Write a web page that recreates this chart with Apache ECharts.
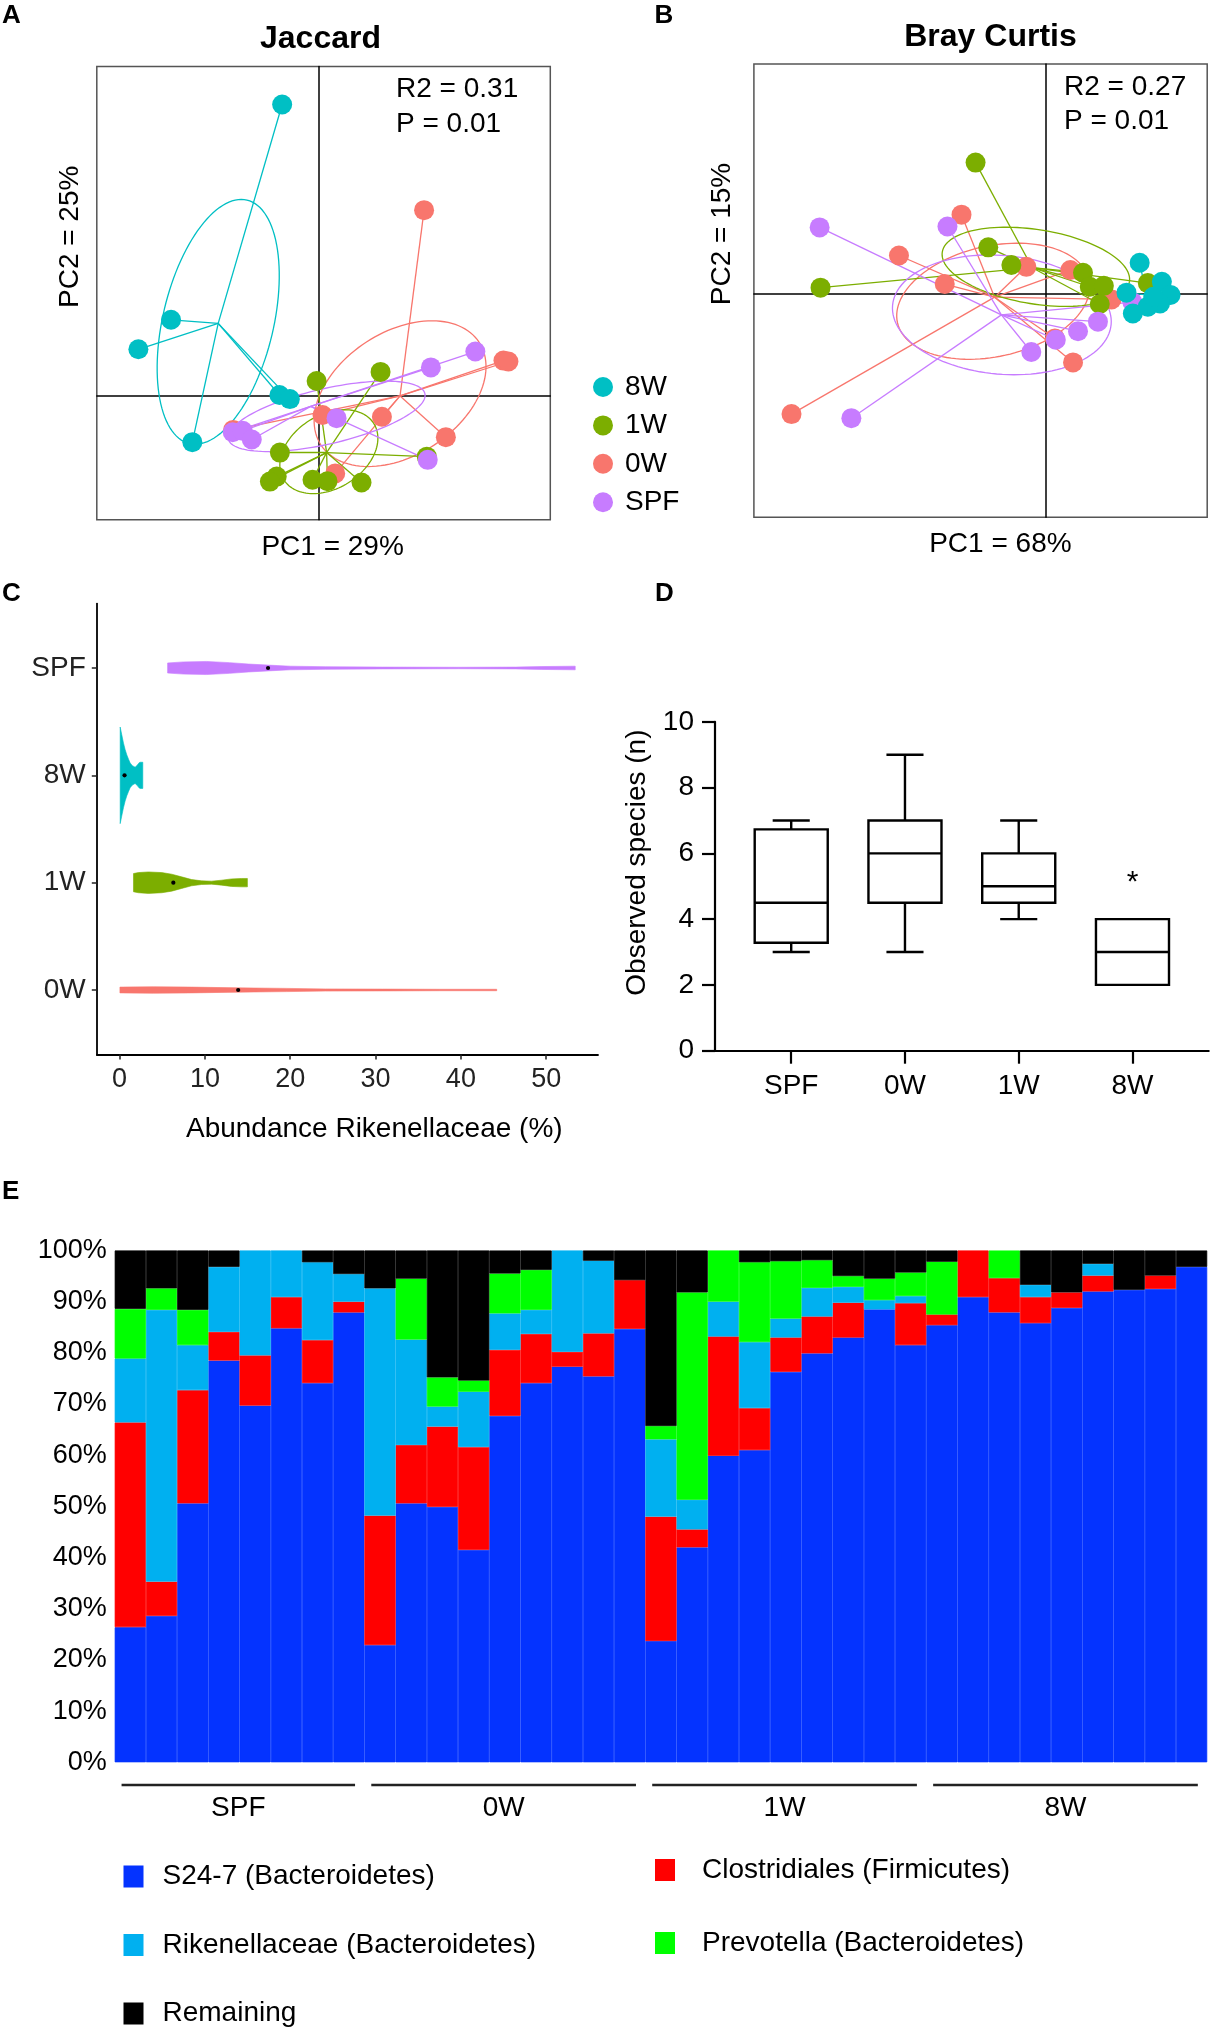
<!DOCTYPE html>
<html><head><meta charset="utf-8">
<script src="https://cdn.jsdelivr.net/npm/echarts@6/dist/echarts.min.js"></script>
<style>html,body{margin:0;padding:0;background:#fff}#c{width:1211px;height:2031px}</style>
</head><body><div id="c"></div>
<script>
// ---------------- DATA ----------------
const groupNames = ['8W', '1W', '0W', 'SPF'];

// Panel A - Jaccard PCoA scores [PC1, PC2]
const jac8W  = [[-0.080,0.642],[-0.325,0.167],[-0.397,0.102],[-0.278,-0.103],[-0.086,0.001],[-0.063,-0.008]];
const jac1W  = [[-0.004,0.032],[0.137,0.052],[-0.085,-0.126],[-0.092,-0.179],[-0.107,-0.190],[-0.013,-0.186],[0.020,-0.189],[0.095,-0.192],[0.239,-0.135]];
const jac0W  = [[0.233,0.409],[0.408,0.077],[0.419,0.075],[0.140,-0.047],[0.281,-0.092],[0.009,-0.043],[0.037,-0.172],[-0.188,-0.076]];
const jacSPF = [[-0.189,-0.081],[-0.167,-0.078],[-0.147,-0.097],[0.040,-0.050],[0.248,0.062],[0.346,0.097],[0.241,-0.142]];
const jacCentroids = { '8W':[-0.221,0.159], '1W':[0.018,-0.126], '0W':[0.180,-0.001], 'SPF':[-0.017,-0.024] };
// ellipse: [centerX, centerY, semiMajor, semiMinor, angleDeg]
const jacEllipses = { '8W':[-0.221,0.1625,0.276,0.122,76.7], '1W':[0.023,-0.124,0.117,0.081,32], '0W':[0.180,0.004,0.208,0.136,33], 'SPF':[0.018,-0.046,0.2225,0.061,13] };
const jacStats = ['R2 = 0.31', 'P = 0.01'];

// Panel B - Bray Curtis PCoA scores
const bc8W  = [[0.208,0.069],[0.257,0.027],[0.276,-0.002],[0.253,-0.021],[0.226,-0.028],[0.193,-0.043],[0.179,0.003],[0.238,-0.006]];
const bc1W  = [[-0.154,0.290],[-0.496,0.014],[-0.126,0.103],[-0.075,0.064],[0.083,0.047],[0.098,0.016],[0.129,0.018],[0.120,-0.022],[0.226,0.024]];
const bc0W  = [[-0.185,0.175],[-0.323,0.085],[-0.222,0.022],[-0.042,0.060],[0.055,0.053],[0.146,-0.012],[0.021,-0.098],[0.061,-0.151],[-0.560,-0.265]];
const bcSPF = [[-0.498,0.147],[-0.216,0.149],[-0.031,-0.128],[0.023,-0.101],[0.072,-0.082],[0.116,-0.061],[0.192,-0.018],[-0.428,-0.274]];
const bcCentroids = { '8W':[0.223,-0.002], '1W':[-0.029,0.058], '0W':[-0.112,-0.007], 'SPF':[-0.097,-0.046] };
const bcEllipses = { '1W':[-0.021,0.060,0.209,0.082,-9], '0W':[-0.115,-0.016,0.2165,0.122,12.6], 'SPF':[-0.096,-0.046,0.242,0.131,-5] };
const bcStats = ['R2 = 0.27', 'P = 0.01'];

// Panel C - violin outlines: [abundance %, half width (category units)]
const violinCats = ['0W', '1W', '8W', 'SPF'];
const violin0W  = [[0.04,0.027],[3.94,0.030],[8.4,0.027],[13.9,0.020],[19.6,0.015],[24.1,0.010],[30.8,0.0085],[37.5,0.0067],[44.2,0.0067]];
const violin1W  = [[1.63,0.085],[2.21,0.094],[3.38,0.100],[4.94,0.094],[6.11,0.079],[7.27,0.054],[8.44,0.029],[9.61,0.017],[10.78,0.014],[11.95,0.023],[13.12,0.035],[14.28,0.039],[14.98,0.039]];
const violin8W  = [[0.07,0.45],[0.25,0.38],[0.46,0.30],[0.65,0.24],[0.85,0.19],[1.05,0.15],[1.24,0.115],[1.5,0.09],[1.82,0.076],[2.0,0.09],[2.13,0.10],[2.3,0.118],[2.41,0.122],[2.72,0.122]];
const violinSPF = [[5.63,0.047],[7.51,0.057],[10.2,0.061],[12.9,0.050],[15.1,0.037],[17.4,0.027],[20.0,0.017],[24.1,0.012],[30.8,0.0085],[39.7,0.0067],[46.4,0.0085],[49.5,0.0135],[53.4,0.017]];
const violinMedians = [13.9, 6.3, 0.58, 17.4];
const abundanceTicks = [0, 10, 20, 30, 40, 50];

// Panel D - observed species boxplots [min, Q1, median, Q3, max]
const boxCats = ['SPF', '0W', '1W', '8W'];
const boxStats = [[3,3.28,4.5,6.73,7],[3,4.5,6,7,9],[4,4.5,5,6,7],[2,2,3,4,4]];
const sigMarks = [[4, 5.1, '*']];

// Panel E - relative abundance per sample (%)
const taxa = ['S24-7 (Bacteroidetes)', 'Clostridiales (Firmicutes)', 'Rikenellaceae (Bacteroidetes)', 'Prevotella (Bacteroidetes)', 'Remaining'];
const s24   = [26.4,28.6,50.6,78.5,69.7,84.8,74.1,87.9,22.9,50.6,49.9,41.5,67.7,74.1,77.3,75.4,84.7,23.7,42.0,59.9,61.0,76.3,79.9,83.0,88.5,81.5,85.4,90.9,87.9,85.8,88.8,92.0,92.3,92.5,96.8];
const clos  = [40.0,6.7,22.1,5.6,9.8,6.1,8.4,2.1,25.3,11.4,15.7,20.1,12.9,9.6,2.9,8.4,9.5,24.3,3.5,23.3,8.2,6.7,7.2,6.8,0,8.2,2.1,9.1,6.7,5.1,3.0,3.1,0,2.6,0];
const rik   = [12.5,53.1,8.8,12.7,20.5,9.1,15.2,5.4,44.4,20.6,3.9,10.8,7.1,4.7,19.8,14.2,0,15.1,5.8,6.8,12.9,3.7,5.6,3.1,1.8,1.4,0,0,0,2.4,0,2.3,0,0,0];
const prev  = [9.7,4.2,6.9,0,0,0,0,0,0,11.9,5.7,2.2,7.8,7.8,0,0,0,2.6,40.5,10.0,15.6,11.2,5.4,2.1,4.2,4.6,10.3,0,5.4,0,0,0,0,0,0];
const rem   = [11.4,7.4,11.6,3.2,0,0,2.3,4.6,7.4,5.5,24.8,25.4,4.5,3.8,0,2.0,5.8,34.3,8.2,0,2.3,2.1,1.9,5.0,5.5,4.3,2.2,0,0,6.7,8.2,2.6,7.7,4.9,3.2];
const sampleGroups = ['SPF', '0W', '1W', '8W'];
const groupSizes = [8, 9, 9, 9];

// ---------------- STYLE ----------------
const FONT = '"Liberation Sans", Arial, Helvetica, sans-serif';
const COL = { '8W':'#00BFC4', '1W':'#7CAE00', '0W':'#F8766D', 'SPF':'#C77CFF' };
const TAXA_COL = ['#0433FF', '#FF0000', '#00B0F0', '#00FF00', '#000000'];

const jacPts = { '8W':jac8W, '1W':jac1W, '0W':jac0W, 'SPF':jacSPF };
const bcPts  = { '8W':bc8W, '1W':bc1W, '0W':bc0W, 'SPF':bcSPF };
const violinProfiles = [violin0W, violin1W, violin8W, violinSPF];

function ellipseRender(color) {
  return function (params, api) {
    const cx = api.value(0), cy = api.value(1), a = api.value(2), b = api.value(3);
    const th = api.value(4) * Math.PI / 180;
    const pts = [];
    for (let k = 0; k <= 120; k++) {
      const t = 2 * Math.PI * k / 120;
      const x = cx + a * Math.cos(t) * Math.cos(th) - b * Math.sin(t) * Math.sin(th);
      const y = cy + a * Math.cos(t) * Math.sin(th) + b * Math.sin(t) * Math.cos(th);
      pts.push(api.coord([x, y]));
    }
    return { type:'polyline', shape:{ points:pts }, style:{ stroke:color, fill:null, lineWidth:1.3 } };
  };
}

function pcoaSeries(idx, pts, cents, ells) {
  const order = ['0W', '1W', 'SPF', '8W'];
  const out = [];
  order.forEach(g => {
    out.push({ type:'lines', coordinateSystem:'cartesian2d', xAxisIndex:idx, yAxisIndex:idx, silent:true, z:1,
      name: g + '-spider-' + idx,
      data: pts[g].map(p => ({ coords:[cents[g], p] })),
      lineStyle:{ color:COL[g], width:1.3, opacity:1, curveness:0 } });
    if (ells[g]) out.push({ type:'custom', name: g + '-ellipse-' + idx, xAxisIndex:idx, yAxisIndex:idx, silent:true, z:1,
      data:[ells[g]], renderItem: ellipseRender(COL[g]) });
  });
  order.forEach(g => out.push({ type:'scatter', name:g, xAxisIndex:idx, yAxisIndex:idx, z:3, silent:true,
    data: pts[g], symbol:'circle', symbolSize:20, itemStyle:{ color:COL[g], opacity:1 } }));
  return out;
}

function hiddenAxis(extra) {
  return Object.assign({ type:'value', axisTick:{show:false}, axisLabel:{show:false}, splitLine:{show:false},
    axisLine:{ show:true, onZero:true, lineStyle:{ color:'#000', width:1.5 } } }, extra);
}

function txt(text, x, y, size, opts) {
  opts = opts || {};
  const al = opts.align || 'center';
  return { type:'text', x:x, y:y, rotation: opts.rot || 0, silent:true, z:10,
    style:{ text:text, fontSize:size, fontFamily:FONT, fontWeight: opts.bold ? 'bold' : 'normal', fill: opts.color || '#000',
      textAlign:al, textVerticalAlign:'middle', align:al, verticalAlign:'middle' } };
}

function taxaLegend(name, left, top, textPad) {
  return { data:[name], orient:'vertical', left:left, top:top, padding:0, itemWidth:18, itemHeight:20, icon:'rect',
    selectedMode:false, textStyle:{ fontSize:28, color:'#000', lineHeight:28, fontFamily:FONT, padding:[0,0,0,textPad] } };
}

// ---------------- SERIES ----------------
let series = [];
series = series.concat(pcoaSeries(0, jacPts, jacCentroids, jacEllipses));
series = series.concat(pcoaSeries(1, bcPts, bcCentroids, bcEllipses));

// violins
series.push({ type:'custom', name:'violins', xAxisIndex:2, yAxisIndex:2, silent:true,
  data: violinCats.map((c, i) => [violinMedians[i], i + 1, i]),
  renderItem: function (params, api) {
    const idx = api.value(2), pos = api.value(1);
    const prof = violinProfiles[idx];
    const color = COL[violinCats[idx]];
    const upper = prof.map(p => api.coord([p[0], pos + p[1]]));
    const lower = prof.slice().reverse().map(p => api.coord([p[0], pos - p[1]]));
    const m = api.coord([api.value(0), pos]);
    return { type:'group', children:[
      { type:'polygon', shape:{ points: upper.concat(lower) }, style:{ fill:color, stroke:color, lineWidth:0.6 } },
      { type:'circle', shape:{ cx:m[0], cy:m[1], r:2.1 }, style:{ fill:'#000' } }
    ]};
  } });

// boxplots
series.push({ type:'custom', name:'boxes', xAxisIndex:3, yAxisIndex:3, silent:true,
  encode:{ x:0, y:[1,2,3,4,5] },
  data: boxCats.map((c, i) => [i + 1].concat(boxStats[i])),
  renderItem: function (params, api) {
    const x = api.value(0);
    const mn = api.value(1), q1 = api.value(2), md = api.value(3), q3 = api.value(4), mx = api.value(5);
    const hw = 0.321, cw = 0.163;
    const P = (a, b) => api.coord([a, b]);
    const st = { stroke:'#000', lineWidth:2.4, fill:null };
    const tl = P(x - hw, q3), br = P(x + hw, q1);
    const ch = [];
    ch.push({ type:'rect', shape:{ x:tl[0], y:tl[1], width:br[0]-tl[0], height:br[1]-tl[1] }, style:{ stroke:'#000', lineWidth:2.4, fill:'#fff' } });
    const m1 = P(x - hw, md), m2 = P(x + hw, md);
    ch.push({ type:'line', shape:{ x1:m1[0], y1:m1[1], x2:m2[0], y2:m2[1] }, style:st });
    if (mx > q3) {
      const a = P(x, q3), b = P(x, mx), c1 = P(x - cw, mx), c2 = P(x + cw, mx);
      ch.push({ type:'line', shape:{ x1:a[0], y1:a[1], x2:b[0], y2:b[1] }, style:st });
      ch.push({ type:'line', shape:{ x1:c1[0], y1:c1[1], x2:c2[0], y2:c2[1] }, style:st });
    }
    if (mn < q1) {
      const a = P(x, q1), b = P(x, mn), c1 = P(x - cw, mn), c2 = P(x + cw, mn);
      ch.push({ type:'line', shape:{ x1:a[0], y1:a[1], x2:b[0], y2:b[1] }, style:st });
      ch.push({ type:'line', shape:{ x1:c1[0], y1:c1[1], x2:c2[0], y2:c2[1] }, style:st });
    }
    return { type:'group', children:ch };
  } });

// significance asterisk
series.push({ type:'custom', name:'sig', xAxisIndex:3, yAxisIndex:3, silent:true,
  data: sigMarks,
  renderItem: function (params, api) {
    const p = api.coord([api.value(0), api.value(1)]);
    return { type:'text', x:p[0], y:p[1], style:{ text: sigMarks[params.dataIndex][2], fontSize:30, fontFamily:FONT, fill:'#000',
      textAlign:'center', textVerticalAlign:'middle', align:'center', verticalAlign:'middle' } };
  } });

// stacked bars (zero shares left empty so no sliver is drawn)
const taxaData = [s24, clos, rik, prev, rem];
taxa.forEach((t, i) => series.push({ type:'bar', name:t, xAxisIndex:4, yAxisIndex:4, stack:'tax', silent:true,
  data: taxaData[i].map(v => (v > 0 ? v : '-')), barCategoryGap:'0%',
  itemStyle:{ color:TAXA_COL[i], borderColor:TAXA_COL[i], borderWidth:0.7 } }));

// group underline + labels
const groupSpans = [];
{ let cum = 0; groupSizes.forEach((n, i) => { groupSpans.push([cum, cum + n, i]); cum += n; }); }
series.push({ type:'custom', name:'groups', xAxisIndex:5, yAxisIndex:5, silent:true,
  encode:{ x:[0,1], y:2 },
  data: groupSpans,
  renderItem: function (params, api) {
    const a = api.coord([api.value(0) + 0.22, 0.5]);
    const b = api.coord([api.value(1) - 0.3, 0.5]);
    return { type:'group', children:[
      { type:'line', shape:{ x1:a[0], y1:a[1], x2:b[0], y2:b[1] }, style:{ stroke:'#222', lineWidth:2.6 } },
      { type:'text', x:(a[0] + b[0]) / 2, y:a[1] + 23, style:{ text: sampleGroups[params.dataIndex], fontSize:28, fontFamily:FONT, fill:'#000',
        textAlign:'center', textVerticalAlign:'middle', align:'center', verticalAlign:'middle' } }
    ]};
  } });

// ---------------- OPTION ----------------
const option = {
  animation:false,
  backgroundColor:'#fff',
  textStyle:{ fontFamily:FONT },
  grid:[
    { left:96.8, top:66.6, width:453.5, height:453.2, show:true, borderColor:'#555', borderWidth:1.5, outerBoundsMode:'none' },
    { left:753.9, top:64, width:453.3, height:453.2, show:true, borderColor:'#555', borderWidth:1.5, outerBoundsMode:'none' },
    { left:96.8, top:603.6, width:501.2, height:450.8, outerBoundsMode:'none' },
    { left:715, top:721.8, width:493.7, height:328.9, outerBoundsMode:'none' },
    { left:114.7, top:1250.5, width:1092.5, height:511.8, outerBoundsMode:'none' },
    { left:114.7, top:1775, width:1092.5, height:20, outerBoundsMode:'none' }
  ],
  xAxis:[
    hiddenAxis({ gridIndex:0, min:-0.4887, max:0.5113 }),
    hiddenAxis({ gridIndex:1, min:-0.643, max:0.357 }),
    { type:'value', gridIndex:2, min:-2.67, max:56.07, splitLine:{show:false},
      axisLine:{ show:true, onZero:false, lineStyle:{ color:'#000', width:1.8 } },
      axisTick:{ show:true, customValues:abundanceTicks, length:5, lineStyle:{ color:'#222', width:1.5 } },
      axisLabel:{ show:true, customValues:abundanceTicks, fontSize:27, color:'#222', margin:12 } },
    { type:'value', gridIndex:3, min:0.33, max:4.67, splitLine:{show:false},
      axisLine:{ show:true, onZero:false, lineStyle:{ color:'#000', width:2.2 } },
      axisTick:{ show:true, customValues:[1,2,3,4], length:13, lineStyle:{ color:'#000', width:2.2 } },
      axisLabel:{ show:true, customValues:[1,2,3,4], fontSize:28, color:'#000', margin:22, formatter: v => boxCats[Math.round(v) - 1] } },
    { type:'category', gridIndex:4, data: s24.map((_, i) => 'S' + (i + 1)), axisLine:{show:false}, axisTick:{show:false}, axisLabel:{show:false}, splitLine:{show:false} },
    { type:'value', gridIndex:5, min:0, max:35, show:false }
  ],
  yAxis:[
    hiddenAxis({ gridIndex:0, min:-0.2743, max:0.7257 }),
    hiddenAxis({ gridIndex:1, min:-0.4925, max:0.5075 }),
    { type:'value', gridIndex:2, min:0.4, max:4.6, splitLine:{show:false},
      axisLine:{ show:true, onZero:false, lineStyle:{ color:'#000', width:1.8 } },
      axisTick:{ show:true, customValues:[1,2,3,4], length:5, lineStyle:{ color:'#222', width:1.5 } },
      axisLabel:{ show:true, customValues:[1,2,3,4], fontSize:28, color:'#222', margin:11, formatter: v => violinCats[Math.round(v) - 1] } },
    { type:'value', gridIndex:3, min:0, max:10, interval:2, splitLine:{show:false},
      axisLine:{ show:true, onZero:false, lineStyle:{ color:'#000', width:2.2 } },
      axisTick:{ show:true, length:13, lineStyle:{ color:'#000', width:2.2 } },
      axisLabel:{ show:true, fontSize:28, color:'#000', margin:21 } },
    { type:'value', gridIndex:4, min:0, max:100, interval:10, splitLine:{show:false},
      axisLine:{show:false}, axisTick:{show:false},
      axisLabel:{ show:true, fontSize:27, color:'#000', margin:8, formatter:'{value}%' } },
    { type:'value', gridIndex:5, min:0, max:1, show:false }
  ],
  legend:[
    { data:groupNames, orient:'vertical', left:593, top:373, padding:0, itemWidth:20, itemHeight:20, itemGap:10.4, icon:'circle',
      selectedMode:false, textStyle:{ fontSize:28, color:'#000', lineHeight:28, fontFamily:FONT, padding:[0,0,0,7] } },
    taxaLegend(taxa[0], 123.5, 1862.5, 15),
    taxaLegend(taxa[2], 123.5, 1931, 15),
    taxaLegend(taxa[4], 123.5, 1999.5, 15),
    taxaLegend(taxa[1], 655, 1856, 23),
    taxaLegend(taxa[3], 655, 1929, 23)
  ],
  graphic:{ elements:[
    txt('A', 2, 16, 26, { bold:true, align:'left' }),
    txt('B', 654.6, 16, 26, { bold:true, align:'left' }),
    txt('C', 2, 594, 26, { bold:true, align:'left' }),
    txt('D', 655, 594, 26, { bold:true, align:'left' }),
    txt('E', 2, 1192, 26, { bold:true, align:'left' }),
    txt('Jaccard', 320.5, 39, 32, { bold:true }),
    txt('Bray Curtis', 990.5, 37, 32, { bold:true }),
    txt(jacStats[0], 396, 89.7, 28, { align:'left' }),
    txt(jacStats[1], 396, 124, 28, { align:'left' }),
    txt(bcStats[0], 1064, 87.3, 28, { align:'left' }),
    txt(bcStats[1], 1064, 121.2, 28, { align:'left' }),
    txt('PC2 = 25%', 70.2, 236.8, 28, { rot:Math.PI / 2 }),
    txt('PC1 = 29%', 332.6, 547.5, 28),
    txt('PC2 = 15%', 722, 234, 28, { rot:Math.PI / 2 }),
    txt('PC1 = 68%', 1000.4, 544, 28),
    txt('Abundance Rikenellaceae (%)', 374.3, 1129, 28),
    txt('Observed species (n)', 637.6, 862.6, 28, { rot:Math.PI / 2 })
  ]},
  series:series
};

const chart = echarts.init(document.getElementById('c'), null, { renderer:'canvas', width:1211, height:2031 });
chart.setOption(option);
</script></body></html>
